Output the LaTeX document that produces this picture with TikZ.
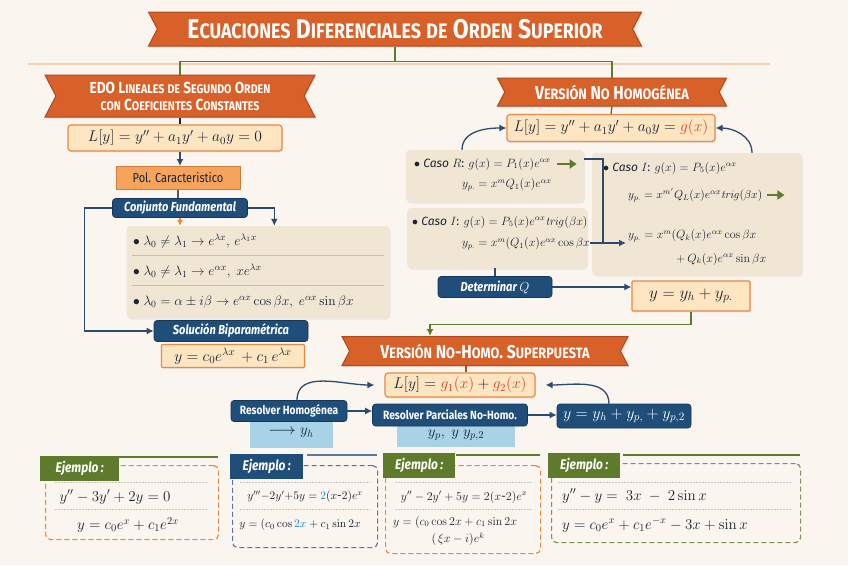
\RequirePackage{fix-cm}
\documentclass[tikz,border=0pt]{standalone}
\usepackage{amsmath}
\usepackage[no-math]{fontspec}
\setmainfont{Fira Sans}
\newfontfamily\cond{Fira Sans}[FakeStretch=0.85]
\usetikzlibrary{shapes.symbols,arrows.meta,calc,shadows}
\definecolor{bg}{HTML}{FAF5EE}
\definecolor{ban}{HTML}{D8612A}
\definecolor{banD}{HTML}{B04A1C}
\definecolor{eqF}{HTML}{FDE5C2}
\definecolor{eqB}{HTML}{E38A45}
\definecolor{polF}{HTML}{F6A45C}
\definecolor{navyc}{HTML}{1F4E7A}
\definecolor{beige}{HTML}{F1E6D4}
\definecolor{lblue}{HTML}{A8D2E6}
\definecolor{olivec}{HTML}{5D7B2B}
\definecolor{arr}{HTML}{2D4B6F}
\definecolor{gred}{HTML}{D2452A}
\definecolor{tblue}{HTML}{1E88B8}
\definecolor{ink}{HTML}{1A2433}
\definecolor{steel}{HTML}{5B7A99}
\newcommand\scsize{\small}
\newcommand\sk[2]{#1{\scsize #2}}
\tikzset{
 ribbon/.style={shape=signal, signal to=nowhere, signal from=west and east, signal pointer angle=125, fill=ban, draw=banD, line width=1pt, text=white, inner sep=0pt, align=center, drop shadow={opacity=0.18, shadow xshift=1pt, shadow yshift=-1.5pt}},
 eqbox/.style={draw=eqB, fill=eqF, line width=1.2pt, rounded corners=3pt, text=ink, inner sep=0pt, font=\fontsize{15.5}{17}\selectfont, drop shadow={opacity=0.12, shadow xshift=1pt, shadow yshift=-1.5pt}},
 navybox/.style={fill=navyc, draw=navyc!70!black, line width=0.6pt, rounded corners=3pt, text=white, inner sep=0pt, font=\cond\bfseries\itshape\fontsize{13}{15}\selectfont},
 lbbox/.style={fill=lblue, inner sep=0pt, text=ink, font=\fontsize{15}{17}\selectfont},
 panel/.style={fill=beige, rounded corners=4pt, inner sep=0pt, drop shadow={opacity=0.12, shadow xshift=1pt, shadow yshift=-1.5pt}},
 txt/.style={anchor=west, inner sep=0pt, text=ink, font=\fontsize{13.5}{15}\selectfont},
 rtxt/.style={txt, font=\fontsize{12}{14}\selectfont},
 conn/.style={draw=arr, line width=1.3pt},
 arrowc/.style={conn, -{Latex[length=7pt,width=7pt]}},
 grn/.style={draw=olivec, line width=1.3pt},
 garrow/.style={draw=olivec, line width=2.6pt, -{Triangle[length=7pt,width=9pt]}},
 tagbox/.style={text=white, font=\cond\bfseries\itshape\fontsize{14}{16}\selectfont, inner sep=0pt, minimum height=25pt},
 card/.style={dash pattern=on 5pt off 3pt, line width=1.2pt, rounded corners=5pt, inner sep=0pt},
 sep/.style={draw=gray!45, dash pattern=on 1.5pt off 1.5pt, line width=0.7pt},
 ceq/.style={inner sep=0pt, text=ink, font=\fontsize{15}{17}\selectfont},
 seq/.style={ceq, font=\fontsize{12}{14}\selectfont}
}
\begin{document}
\begin{tikzpicture}[x=1pt,y=-1pt]
\useasboundingbox (0,0) rectangle (848,565);
\fill[bg] (0,0) rectangle (848,565);
\draw[eqB!40, line width=1.6pt] (28,64) -- (770,64);
% ---------- title
\node[ribbon, minimum width=493pt, minimum height=34pt, font=\cond\bfseries\fontsize{27}{29}\selectfont\def\scsize{\fontsize{21}{24}\selectfont}] (title) at (395,29)
 {\sk{E}{CUACIONES} \sk{D}{IFERENCIALES} {\scsize DE} \sk{O}{RDEN} \sk{S}{UPERIOR}};
\node[ribbon, minimum width=270pt, minimum height=42pt, font=\cond\bfseries\fontsize{16}{17}\selectfont\def\scsize{\fontsize{12.5}{14}\selectfont}] (lban) at (180,96)
 {EDO \sk{L}{INEALES} {\scsize DE} \sk{S}{EGUNDO} \sk{O}{RDEN}\\ {\scsize CON} \sk{C}{OEFICIENTES} \sk{C}{ONSTANTES}};
\node[ribbon, minimum width=229pt, minimum height=28pt, font=\cond\bfseries\fontsize{18.5}{20}\selectfont\def\scsize{\fontsize{15}{17}\selectfont}] (rban) at (612,92)
 {\sk{V}{ERSIÓN} \sk{N}{O} \sk{H}{OMOGÉNEA}};
\draw[grn] (title.south) -- ++(0,15) coordinate (tj);
\draw[grn] (tj) -| (lban.north);
\draw[grn] (tj) -| (rban.north);
% ---------- left column
\node[eqbox, minimum width=214pt, minimum height=26pt] (eqL) at (175,138) {$L[y] = y'' + a_1y' + a_0y = 0$};
\node[draw=eqB!90!black, fill=polF, line width=1pt, inner sep=0pt, minimum width=124pt, minimum height=23pt, text=ink, font=\cond\fontsize{13}{15}\selectfont] (pol) at (178,178) {Pol. Caracteristico};
\node[navybox, minimum width=135pt, minimum height=19pt] (conj) at (180,208) {Conjunto Fundamental};
\node[panel, minimum width=263pt, minimum height=92pt] (cases) at (258,272) {};
\draw[beige!60!gray, line width=0.7pt] ($(cases.north west)+(6,30)$) -- ($(cases.north east)+(-6,30)$);
\draw[beige!60!gray, line width=0.7pt] ($(cases.north west)+(6,60)$) -- ($(cases.north east)+(-6,60)$);
\node[txt] (r1) at (133,241) {$\bullet\ \lambda_0 \neq \lambda_1 \to e^{\lambda x},\, e^{\lambda_1 x}$};
\node[txt] (r2) at (133,271) {$\bullet\ \lambda_0 \neq \lambda_1 \to e^{\alpha x},\ x e^{\lambda x}$};
\node[txt] (r3) at (133,302) {$\bullet\ \lambda_0 = \alpha \pm i\beta \to e^{\alpha x}\cos\beta x,\ e^{\alpha x}\sin\beta x$};
\node[navybox, minimum width=154pt, minimum height=21pt] (sol) at (231,331) {Solución Biparamétrica};
\node[eqbox, rounded corners=1pt, minimum width=143pt, minimum height=23pt] (soleq) at (233,356) {$y = c_0e^{\lambda x} \,+ c_1\, e^{\lambda x}$};
\draw[conn, draw=ink] (lban.south) -- (lban.south |- eqL.north);
\draw[arrowc] (eqL.south -| lban.south) -- (lban.south |- pol.north);
\draw[conn, draw=gray!70!black] (pol.south) -- (pol.south |- conj.north);
\draw[arrowc] (conj.west) -- ++(-28,0) |- (sol.west);
\draw[arrowc] (conj.east) -| ([xshift=148pt]cases.north west);
\draw[draw=eqB, line width=1.3pt, -{Latex[length=6pt,width=6pt]}] (conj.south) -- (conj.south |- cases.north);
% ---------- right column
\node[eqbox, minimum width=208pt, minimum height=27pt] (eqR) at (611,128) {$L[y] = y'' + a_1y' + a_0y = {\color{gred}g(x)}$};
\draw[conn, draw=banD] (rban.south) -- (eqR.north);
\node[panel, minimum width=178pt, minimum height=52pt] (caseR) at (495,176) {};
\node[rtxt] (cR1) at (414,164) {$\bullet$ \textit{Caso} $R$: $g(x) = P_1(x)e^{\alpha x}$};
\node[rtxt] (cR2) at (462,185) {$y_{p.} = x^m Q_1(x)e^{\alpha x}$};
\draw[garrow] ([xshift=6pt]cR1.east) -- ++(20,0) coordinate (gaR);
\node[panel, minimum width=180pt, minimum height=60pt] (caseI) at (497,238) {};
\node[rtxt] (cI1) at (412,222) {$\bullet$ \textit{Caso} $I$: $g(x) = P_5(x)e^{\alpha x}\mathit{trig}(\beta x)$};
\node[rtxt] (cI2) at (462,244) {$y_{p.} = x^m(Q_1(x)e^{\alpha x}\cos\beta x$};
\node[panel, minimum width=210pt, minimum height=122pt] (big) at (697,214) {};
\node[rtxt] (b1) at (603,168) {$\bullet$ \textit{Caso} $I$: $g(x) = P_5(x)e^{\alpha x}$};
\node[rtxt, font=\fontsize{11.5}{13}\selectfont] (b2) at (628,195) {$y_{p.} = x^{m'}Q_L(x)e^{\alpha x}\mathit{trig}(\beta x)$};
\draw[garrow] ([xshift=5pt]b2.east) -- ++(17,0) coordinate (gaB);
\node[rtxt] (b3) at (628,236) {$y_{p.} = x^m(Q_k(x)e^{\alpha x}\cos\beta x$};
\node[rtxt] (b4) at (676,259) {$+\, Q_k(x)e^{\alpha x}\sin\beta x$};
\draw[arrowc] ([xshift=-33pt]caseR.north) to[out=90,in=180] (eqR.west);
\draw[arrowc] ([xshift=55pt]big.north) to[out=90,in=0] (eqR.east);
\coordinate (jn) at (603,243);
\draw[conn] ([yshift=17pt]caseR.east) -| (jn);
\draw[arrowc] (cI2.east |- jn) -- ([xshift=-2pt]b3.west |- jn);
\node[navybox, minimum width=114pt, minimum height=21pt] (detq) at (495,287) {Determinar $Q$};
\node[eqbox, rounded corners=1pt, minimum width=118pt, minimum height=30pt, font=\fontsize{17}{19}\selectfont] (yfull) at (691,296) {$y = y_h + y_{p.}$};
\draw[conn] (caseI.south -| detq.north) -- (detq.north);
\draw[arrowc] (detq.east) -- (detq.east -| yfull.west);
% ---------- middle
\node[ribbon, minimum width=286pt, minimum height=29pt, font=\cond\bfseries\fontsize{18.5}{20}\selectfont\def\scsize{\fontsize{15}{17}\selectfont}] (mban) at (485,351)
 {\sk{V}{ERSIÓN} \sk{N}{O}-\sk{H}{OMO}. \sk{S}{UPERPUESTA}};
\draw[grn, -{Latex[length=7pt,width=7pt]}] (yfull.south) -- ++(0,13) -| ([xshift=-55pt]mban.north);
\node[eqbox, minimum width=150pt, minimum height=24pt] (eqM) at (460,385) {$L[y] = {\color{gred}g_1(x)} + {\color{gred}g_2(x)}$};
\draw[conn, draw=banD] (eqM.north -| 466,0) -- (mban.south -| 466,0);
\node[lbbox, minimum width=83pt, minimum height=30pt, anchor=north] (lb1) at (291,418) {{\color{arr}\boldmath$\longrightarrow$}\ $y_h$};
\node[lbbox, minimum width=118pt, minimum height=24pt, anchor=north] (lb2) at (456,423) {$y_p,\ y\ y_{p,2}$};
\node[navybox, minimum width=116pt, minimum height=21pt, font=\cond\bfseries\fontsize{12}{14}\selectfont] (resH) at (289,411) {Resolver Homogénea};
\node[navybox, minimum width=155pt, minimum height=22pt, font=\cond\bfseries\fontsize{12}{14}\selectfont] (resP) at (450,415) {Resolver Parciales No-Homo.};
\node[navybox, minimum width=134pt, minimum height=24pt, font=\fontsize{16}{18}\selectfont] (yfin) at (624,416) {$y = y_h + y_{p,} + y_{p,2}$};
\draw[arrowc] (resH.east) -- (resH.east -| resP.west);
\draw[arrowc] (resP.east) -- (resP.east -| yfin.west);
\draw[arrowc] ([xshift=8pt]resH.north) to[out=90,in=180] ([xshift=-10pt]eqM.west);
\draw[arrowc] ([xshift=-15pt]yfin.north) to[out=90,in=0] ([xshift=10pt]eqM.east);
% ---------- examples
% card 1
\node[card, draw=eqB, minimum width=173pt, minimum height=74pt, anchor=north west] (k1) at (45,465) {};
\draw[olivec, line width=2pt] (119,457) -- (218,457);
\node[tagbox, fill=olivec, minimum width=79pt, anchor=north west] (t1) at (40,456) {Ejemplo\,:};
\draw[sep] (55,482) -- (208,482);
\draw[sep] (55,509) -- (208,509);
\node[ceq] (e11) at (115,497) {$y'' - 3y' + 2y = 0$};
\node[ceq] (e12) at (128,525) {$y = c_0e^{x} + c_1 e^{2x}$};
% card 2
\node[card, draw=steel, minimum width=145pt, minimum height=82pt, anchor=north west] (k2) at (232,465) {};
\draw[steel, line width=2pt] (307,455) -- (377,455);
\node[tagbox, fill=navyc, minimum width=73pt, anchor=north west] (t2) at (230,454) {Ejemplo\,:};
\draw[sep] (240,482) -- (370,482);
\draw[sep] (240,509) -- (370,509);
\node[seq, font=\fontsize{11.5}{13}\selectfont] (e21) at (305,497) {$y''' {-} 2y' {+} 5y = {\color{tblue}2}(x\text{-}2)e^{x}$};
\node[seq, font=\fontsize{11.5}{13}\selectfont] (e22) at (300,525) {$y = (c_0\cos {\color{tblue}2x} + c_1\sin 2x$};
% card 3
\node[card, draw=eqB, minimum width=155pt, minimum height=88pt, anchor=north west] (k3) at (385,465) {};
\draw[olivec, line width=2pt] (456,455) -- (540,455);
\node[tagbox, fill=olivec, minimum width=72pt, anchor=north west] (t3) at (383,453) {Ejemplo\,:};
\draw[sep] (395,482) -- (532,482);
\draw[sep] (395,509) -- (532,509);
\node[seq] (e31) at (464,497) {$y'' - 2y' + 5y = 2(x\text{-}2)e^{x}$};
\node[seq] (e32) at (455,522) {$y = (c_0\cos 2x + c_1\sin 2x$};
\node[seq] (e33) at (458,539) {$(\,\xi x - i)e^{k}$};
% card 4
\node[card, draw=olivec!80, minimum width=249pt, minimum height=79pt, anchor=north west] (k4) at (551,463) {};
\draw[olivec, line width=2pt] (623,455) -- (800,455);
\node[tagbox, fill=olivec, minimum width=72pt, anchor=north west] (t4) at (548,453) {Ejemplo\,:};
\draw[sep] (558,482) -- (792,482);
\draw[sep] (558,509) -- (792,509);
\node[ceq, anchor=west] (e41) at (562,496) {$y'' - y = \ 3x\ -\ 2\sin x$};
\node[ceq, anchor=west] (e42) at (562,525) {$y = c_0e^{x} + c_1e^{-x} - 3x + \sin x$};
\end{tikzpicture}
\end{document}
